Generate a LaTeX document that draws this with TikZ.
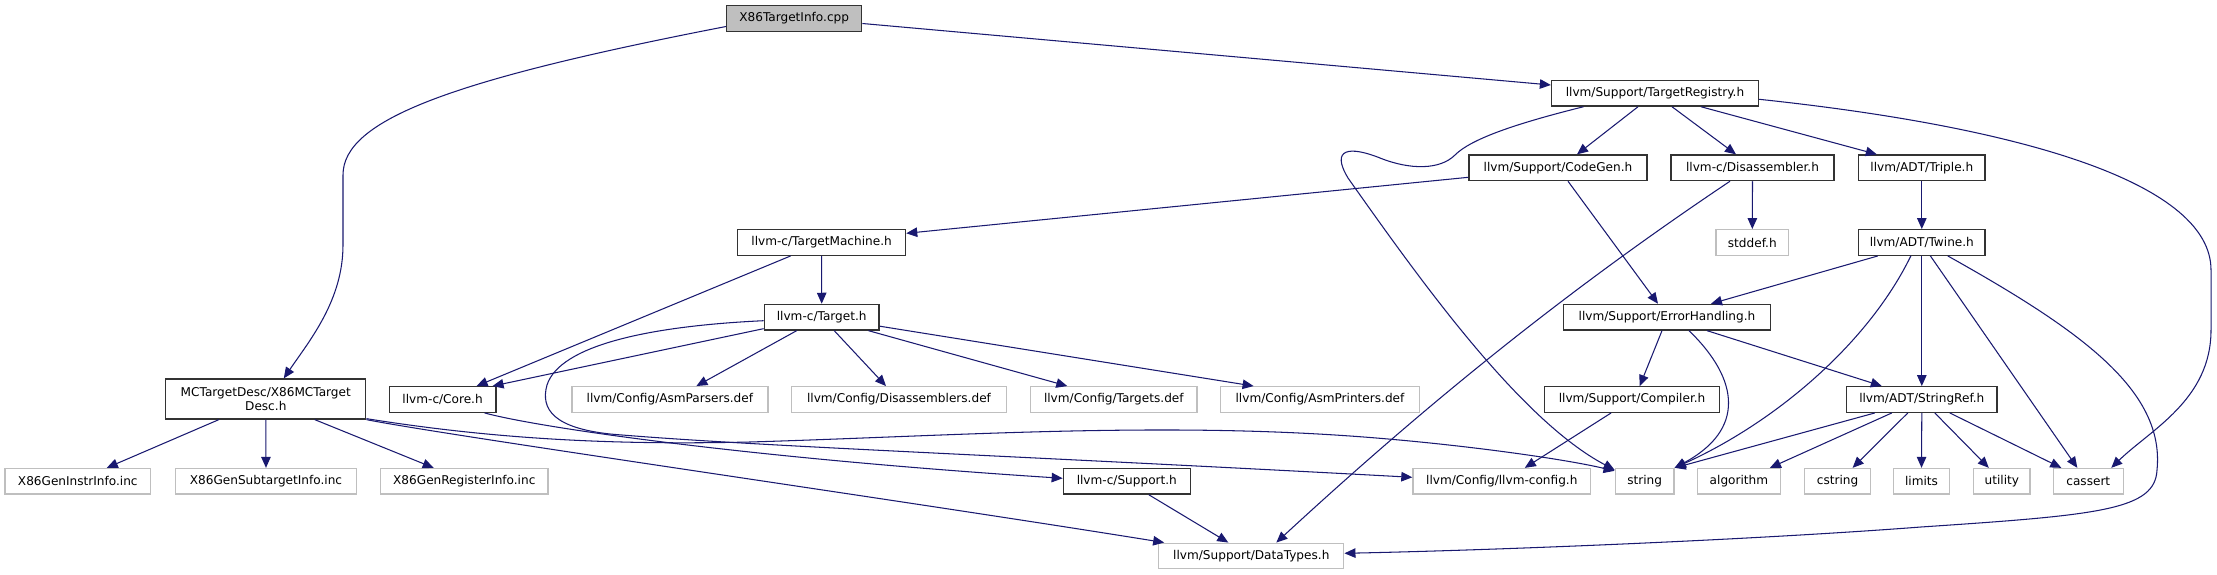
\documentclass[tikz,border=0pt]{standalone}
\usepackage{fontspec}
\setmainfont{DejaVu Sans}
\usetikzlibrary{arrows.meta}
\definecolor{edgecol}{HTML}{191970}
\definecolor{extgray}{HTML}{BFBFBF}
\definecolor{boxcol}{HTML}{333333}
\begin{document}
\begin{tikzpicture}[x=1pt,y=-1pt,
  base/.style={rectangle, minimum height=25.6pt, inner sep=0pt, text=black,
               font=\fontsize{12.1}{14.5}\selectfont},
  inc/.style={base, draw=boxcol, line width=1.3pt},
  ext/.style={base, draw=extgray, line width=1.3pt},
  rootbox/.style={inc, fill=extgray},
  edge/.style={draw=edgecol, line width=1.05pt, -{Triangle[length=11pt,width=9.5pt]}}]
\path[fill=white,use as bounding box] (0,0) rectangle (2217,575);

% nodes
\node[rootbox, minimum width=135pt] (root) at (794.2,18.5) {X86TargetInfo.cpp};
\node[inc, minimum width=207pt] (treg) at (1655,93.3) {llvm/Support/TargetRegistry.h};
\node[inc, minimum width=200pt, minimum height=40pt, align=center] (mc) at (265.8,399) {MCTargetDesc/X86MCTarget\\Desc.h};
\node[inc, minimum width=178pt] (codegen) at (1558,167.8) {llvm/Support/CodeGen.h};
\node[inc, minimum width=163pt] (disasm) at (1752.5,167.8) {llvm-c/Disassembler.h};
\node[inc, minimum width=126.6pt] (triple) at (1921.8,167.8) {llvm/ADT/Triple.h};
\node[inc, minimum width=168pt] (tm) at (821.6,242.5) {llvm-c/TargetMachine.h};
\node[ext, minimum width=72.4pt] (stddef) at (1752.3,242.5) {stddef.h};
\node[inc, minimum width=126.6pt] (twine) at (1921.8,242.5) {llvm/ADT/Twine.h};
\node[inc, minimum width=114.8pt] (target) at (821.7,317.2) {llvm-c/Target.h};
\node[inc, minimum width=207pt] (err) at (1667,317.2) {llvm/Support/ErrorHandling.h};
\node[inc, minimum width=106.6pt] (core) at (442.6,399.5) {llvm-c/Core.h};
\node[ext, minimum width=196pt] (asmp) at (669.9,399.5) {llvm/Config/AsmParsers.def};
\node[ext, minimum width=215.3pt] (disdef) at (899,399.5) {llvm/Config/Disassemblers.def};
\node[ext, minimum width=166.3pt] (tdef) at (1113.8,399.5) {llvm/Config/Targets.def};
\node[ext, minimum width=198.5pt] (aprint) at (1320,399.5) {llvm/Config/AsmPrinters.def};
\node[inc, minimum width=174.6pt] (comp) at (1632.1,399.5) {llvm/Support/Compiler.h};
\node[inc, minimum width=150.6pt] (sref) at (1921.8,399.5) {llvm/ADT/StringRef.h};
\node[ext, minimum width=145.4pt] (ginstr) at (77.8,481.3) {X86GenInstrInfo.inc};
\node[ext, minimum width=181pt] (gsub) at (266,481.3) {X86GenSubtargetInfo.inc};
\node[ext, minimum width=167.4pt] (greg) at (464.3,481.3) {X86GenRegisterInfo.inc};
\node[inc, minimum width=127pt] (csup) at (1126.8,481.3) {llvm-c/Support.h};
\node[ext, minimum width=177.7pt] (cfg) at (1501.8,481.3) {llvm/Config/llvm-config.h};
\node[ext, minimum width=58.8pt] (string) at (1644.6,481.3) {string};
\node[ext, minimum width=82.8pt] (algo) at (1738.9,481.3) {algorithm};
\node[ext, minimum width=65.6pt] (cstring) at (1837.6,481.3) {cstring};
\node[ext, minimum width=56.3pt] (limits) at (1921.5,481.3) {limits};
\node[ext, minimum width=56.2pt] (utility) at (2001.8,481.3) {utility};
\node[ext, minimum width=69.8pt] (cassert) at (2088.3,481.3) {cassert};
\node[ext, minimum width=185pt] (dt) at (1251.3,556) {llvm/Support/DataTypes.h};

% edges from root
\draw[edge] ([yshift=-8pt]root.west) .. controls (450,80) and (343,120) .. (343,175)
  -- (343,245) .. controls (343,300) and (310,340) .. ([xshift=18pt]mc.north);
\draw[edge] ([yshift=-5pt]root.east) -- ([yshift=8.3pt]treg.west);

% MCTargetDesc
\draw[edge] ([xshift=-47pt]mc.south) -- ([xshift=29pt]ginstr.north);
\draw[edge] (mc.south) -- (gsub.north);
\draw[edge] ([xshift=49pt]mc.south) -- ([xshift=-30.6pt]greg.north);
\draw[edge] (mc.south east) .. controls (450,436) and (900,500) .. ([xshift=6pt]dt.north west);
\draw[edge] ([yshift=1pt]mc.south east) .. controls (500,440) and (620,445) .. (750,442)
  .. controls (950,436) and (1150,422) .. (1350,436)
  .. controls (1450,443) and (1560,458) .. ([yshift=-3pt]string.north west);

% TargetRegistry
\draw[edge] ([xshift=-17pt]treg.south) -- ([xshift=19pt]codegen.north);
\draw[edge] ([xshift=17pt]treg.south) -- ([xshift=-16.5pt]disasm.north);
\draw[edge] ([xshift=46pt]treg.south) -- ([xshift=-45pt]triple.north);
\draw[edge] ([yshift=-6pt]treg.east) .. controls (2030,128) and (2211,185) .. (2211,270)
  -- (2211,330) .. controls (2211,400) and (2150,430) .. ([xshift=23pt]cassert.north);
\draw[edge] ([xshift=-71.5pt]treg.south) .. controls (1510,125) and (1470,140) .. (1455,155)
  .. controls (1440,170) and (1410,170) .. (1380,158)
  .. controls (1350,146) and (1330,148) .. (1348,178)
  .. controls (1420,280) and (1520,420) .. ([yshift=-2pt]string.north west);

% CodeGen, Disassembler, Triple
\draw[edge] ([yshift=-9.5pt]codegen.west) -- ([yshift=9.2pt]tm.east);
\draw[edge] ([xshift=10pt]codegen.south) -- ([xshift=-9pt]err.north);
\draw[edge] (disasm.south) -- (stddef.north);
\draw[edge] ([xshift=-22.5pt]disasm.south) .. controls (1560,295) and (1420,410) .. ([xshift=25pt]dt.north);
\draw[edge] (triple.south) -- (twine.north);

% Twine
\draw[edge] ([xshift=-44pt]twine.south) -- ([xshift=44pt]err.north);
\draw[edge] ([xshift=-11pt]twine.south) .. controls (1870,340) and (1780,420) .. (string.north east);
\draw[edge] (twine.south) -- (sref.north);
\draw[edge] ([xshift=8.6pt]twine.south) -- ([xshift=-11pt]cassert.north);
\draw[edge] ([xshift=26pt]twine.south) .. controls (2080,330) and (2165,390) .. (2157,470)
  .. controls (2155,510) and (2100,515) .. (1921,527)
  .. controls (1750,540) and (1500,550) .. ([yshift=2.7pt]dt.east);

% ErrorHandling, Compiler
\draw[edge] ([xshift=-5pt]err.south) -- ([xshift=7.6pt]comp.north);
\draw[edge] ([xshift=22pt]err.south) .. controls (1740,380) and (1745,430) .. (string.north east);
\draw[edge] ([xshift=40pt]err.south) -- ([xshift=-40pt]sref.north);
\draw[edge] ([xshift=-21pt]comp.south) -- ([xshift=23pt]cfg.north);

% StringRef
\draw[edge] ([xshift=-47pt]sref.south) -- (string.north east);
\draw[edge] ([xshift=-30pt]sref.south) -- ([xshift=31pt]algo.north);
\draw[edge] ([xshift=-14pt]sref.south) -- ([xshift=15pt]cstring.north);
\draw[edge] (sref.south) -- (limits.north);
\draw[edge] ([xshift=13pt]sref.south) -- ([xshift=-13pt]utility.north);
\draw[edge] ([xshift=28pt]sref.south) -- ([xshift=-27pt]cassert.north);

% TargetMachine, Target
\draw[edge] (tm.south) -- (target.north);
\draw[edge] ([xshift=-31pt]tm.south) -- ([xshift=34pt]core.north);
\draw[edge] ([yshift=2pt]target.south west) -- ([xshift=-4pt]core.north east);
\draw[edge] ([xshift=-25pt]target.south) -- ([xshift=26.5pt]asmp.north);
\draw[edge] ([xshift=12.5pt]target.south) -- ([xshift=-13pt]disdef.north);
\draw[edge] ([xshift=46.7pt]target.south) -- ([xshift=-46.5pt]tdef.north);
\draw[edge] ([yshift=-9pt]target.east) -- ([xshift=-66.4pt]aprint.north);
\draw[edge] ([yshift=-3.5pt]target.west) .. controls (650,326) and (560,345) .. (547,385)
  .. controls (540,410) and (555,428) .. (610,434)
  .. controls (750,446) and (1000,455) .. ([yshift=4pt]cfg.west);

% Core, Support
\draw[edge] ([xshift=42pt]core.south) .. controls (540,428) and (750,458) .. ([yshift=3pt]csup.west);
\draw[edge] ([xshift=22pt]csup.south) -- ([xshift=-23pt]dt.north);
\end{tikzpicture}
\end{document}
